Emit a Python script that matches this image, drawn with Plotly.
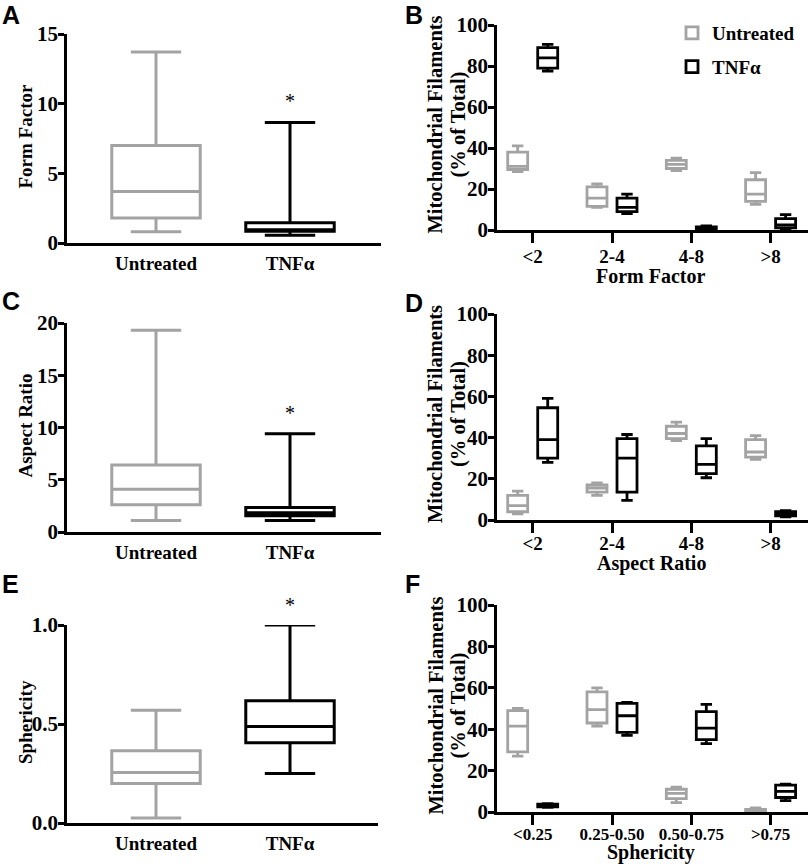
import plotly.graph_objects as go

# ---------------- data ----------------
groups = ["Untreated", "TNFα"]

# Left panels: five-number summaries (min, q1, median, q3, max) per group
form_factor = [(0.8, 1.8, 3.7, 7.0, 13.7), (0.55, 0.85, 0.95, 1.45, 8.65)]
aspect_ratio = [(1.1, 2.6, 4.1, 6.4, 19.3), (1.1, 1.55, 1.85, 2.35, 9.4)]
sphericity = [(0.025, 0.2, 0.255, 0.365, 0.57), (0.25, 0.405, 0.488, 0.617, 1.0)]
star_levels = [10.2, 11.4, 1.1]

# Right panels: bins and five-number summaries per bin
ff_bins = ["<2", "2-4", "4-8", ">8"]
ff_untreated = [(28.5, 29.5, 31, 38, 41), (11, 11.5, 15.5, 21, 22.5),
                (29, 30, 32, 34, 35), (12.5, 14, 17.5, 24.5, 28)]
ff_tnf = [(77.5, 79, 84, 89, 90.5), (8, 9, 11, 15.5, 17.5),
          (0, 0.3, 0.8, 1.5, 2), (0, 1, 2.5, 5.5, 7.5)]

ar_bins = ["<2", "2-4", "4-8", ">8"]
ar_untreated = [(3, 4, 7, 12, 14), (12, 13.5, 15.5, 17, 18),
                (38.5, 39.5, 42, 45.5, 47.5), (29.5, 30.5, 33, 39, 41)]
ar_tnf = [(28, 30, 39, 54.5, 59), (9.5, 13.5, 30, 39.5, 41.5),
          (20.5, 22.5, 27, 36, 39.5), (1.5, 2, 3, 4, 4.5)]

sp_bins = ["<0.25", "0.25-0.50", "0.50-0.75", ">0.75"]
sp_untreated = [(27, 29, 41.5, 49, 50), (41.5, 43, 49.5, 58, 60),
                (4.5, 6.5, 9, 11, 12), (0, 0.2, 0.6, 1.2, 2)]
sp_tnf = [(2.2, 2.5, 3.2, 3.8, 4), (37, 38.5, 46.5, 52.5, 53),
          (33, 35, 40.5, 48.5, 52), (5.5, 7, 10, 13, 13.5)]

# ---------------- style ----------------
W, H = 812, 864
GRAY = "#a3a3a3"
BLACK = "#000000"
colors = [GRAY, BLACK]
SERIF = "Liberation Serif"
SANS = "Liberation Sans"


def px_x(a, b):
    return [a / W, b / W]


def px_y(top, bottom):
    return [1 - bottom / H, 1 - top / H]


def bold(size, family=SERIF):
    return dict(family=family, size=size, color="black", weight="bold")


fig = go.Figure()

# Left panels
left = [("x", "y", form_factor), ("x3", "y3", aspect_ratio), ("x5", "y5", sphericity)]
for xa, ya, stats in left:
    for i, g in enumerate(groups):
        s = stats[i]
        fig.add_trace(go.Box(
            x=[g], lowerfence=[s[0]], q1=[s[1]], median=[s[2]], q3=[s[3]], upperfence=[s[4]],
            xaxis=xa, yaxis=ya, width=0.66, whiskerwidth=0.57,
            line=dict(color=colors[i], width=3), fillcolor="white",
            boxpoints=False, showlegend=False, hoverinfo="skip", name=g,
        ))

# Right panels
right = [("x2", "y2", ff_bins, ff_untreated, ff_tnf, "B", True),
         ("x4", "y4", ar_bins, ar_untreated, ar_tnf, "D", False),
         ("x6", "y6", sp_bins, sp_untreated, sp_tnf, "F", False)]
for xa, ya, bins, untr, tnf, grp, leg in right:
    for i, series in enumerate([untr, tnf]):
        fig.add_trace(go.Box(
            x=bins,
            lowerfence=[s[0] for s in series], q1=[s[1] for s in series],
            median=[s[2] for s in series], q3=[s[3] for s in series],
            upperfence=[s[4] for s in series],
            xaxis=xa, yaxis=ya, alignmentgroup=grp, offsetgroup=str(i),
            whiskerwidth=0.57, line=dict(color=colors[i], width=2.8), fillcolor="white",
            boxpoints=False, showlegend=leg, legendgroup=groups[i], name=groups[i],
            hoverinfo="skip",
        ))

axis_common = dict(showline=True, linecolor="black", linewidth=2.5, showgrid=False,
                   zeroline=False, fixedrange=True, automargin=False)
ytick = dict(ticks="outside", ticklen=6, tickwidth=2.5, tickcolor="black",
             ticklabelstandoff=-4, tickfont=bold(21))

layout = dict(
    width=W, height=H, margin=dict(l=0, r=0, t=0, b=0, autoexpand=False),
    paper_bgcolor="white", plot_bgcolor="white",
    boxmode="group", boxgap=0.243, boxgroupgap=0.334,
    font=dict(family=SERIF, color="black"),
    showlegend=True,
    legend=dict(x=672 / W, y=1 - 14 / H, xanchor="left", yanchor="top",
                font=bold(19), traceorder="grouped", tracegroupgap=6,
                bgcolor="rgba(0,0,0,0)"),
)

annotations = []

# left axes
left_specs = [("xaxis", "yaxis", "x", "y", [0, 15], 5, None, "Form Factor", 34, 243, 381),
              ("xaxis3", "yaxis3", "x3", "y3", [0, 20], 5, None, "Aspect Ratio", 323, 532, 381),
              ("xaxis5", "yaxis5", "x5", "y5", [0, 1], 0.5, ".1f", "Sphericity", 625, 823, 378)]
for (xk, yk, xid, yid, rng, dt, fmt, title, top, bot, xr), lvl in zip(left_specs, star_levels):
    layout[xk] = dict(axis_common, domain=px_x(67, xr), anchor=yid,
                      range=[(67 - 156) / 134, (xr - 156) / 134],
                      ticks="", ticklabelstandoff=1, tickfont=bold(19))
    layout[yk] = dict(axis_common, **ytick, domain=px_y(top, bot), anchor=xid,
                      range=rng, dtick=dt, tick0=0)
    if fmt:
        layout[yk]["tickformat"] = fmt
    annotations.append(dict(text=title, textangle=-90, xref="paper", yref="paper",
                            x=25 / W, y=1 - ((top + bot) / 2 - 2) / H,
                            xanchor="center", yanchor="middle", showarrow=False,
                            font=bold(19)))
    # significance star above TNFα
    annotations.append(dict(text="*", x=groups[1], xref=xid,
                            y=(lvl - rng[0]) / (rng[1] - rng[0]), yref=yid + " domain",
                            showarrow=False, yanchor="middle",
                            font=dict(family=SERIF, size=20, color="black")))

# right axes
right_axes = [("xaxis2", "yaxis2", 25, 230, "x2", "y2", "Form Factor", 19, -3, 46),
              ("xaxis4", "yaxis4", 314, 520, "x4", "y4", "Aspect Ratio", 19, -6, 43),
              ("xaxis6", "yaxis6", 605, 812, "x6", "y6", "Sphericity", 17, -5, 40)]
for xk, yk, top, bot, xid, yid, xtitle, tfs, tso, tgap in right_axes:
    layout[xk] = dict(axis_common, domain=px_x(497, 808), anchor=yid,
                      range=[(497 - 532.7) / 79.3, (808 - 532.7) / 79.3],
                      ticks="outside", ticklen=10, tickwidth=2.5, tickcolor="black",
                      ticklabelstandoff=tso, tickfont=bold(tfs))
    layout[yk] = dict(axis_common, **ytick, domain=px_y(top, bot), anchor=xid,
                      range=[0, 100], dtick=20, tick0=0)
    ymid = 1 - ((top + bot) / 2 - 3) / H
    annotations.append(dict(text="Mitochondrial Filaments", textangle=-90,
                            xref="paper", yref="paper", x=435 / W, y=ymid,
                            xanchor="center", yanchor="middle", showarrow=False,
                            font=bold(20.5)))
    annotations.append(dict(text="(% of Total)", textangle=-90,
                            xref="paper", yref="paper", x=458 / W, y=ymid,
                            xanchor="center", yanchor="middle", showarrow=False,
                            font=bold(20.5)))
    annotations.append(dict(text=xtitle, xref="paper", yref="paper",
                            x=651 / W, y=1 - (bot + tgap) / H,
                            xanchor="center", yanchor="middle", showarrow=False,
                            font=bold(20)))

# panel letters
for letter, lx, ly in [("A", 0, 15), ("B", 403, 15), ("C", 0, 301),
                       ("D", 403, 303), ("E", 0, 584), ("F", 403, 584)]:
    annotations.append(dict(text=letter, xref="paper", yref="paper",
                            x=lx / W, y=1 - ly / H, xanchor="left", yanchor="middle",
                            showarrow=False, font=bold(25, SANS)))

layout["annotations"] = annotations
fig.update_layout(**layout)
fig.write_html("out.html", config={"displayModeBar": False},
               post_script="document.body.style.margin='0px';document.body.style.overflow='hidden';")
